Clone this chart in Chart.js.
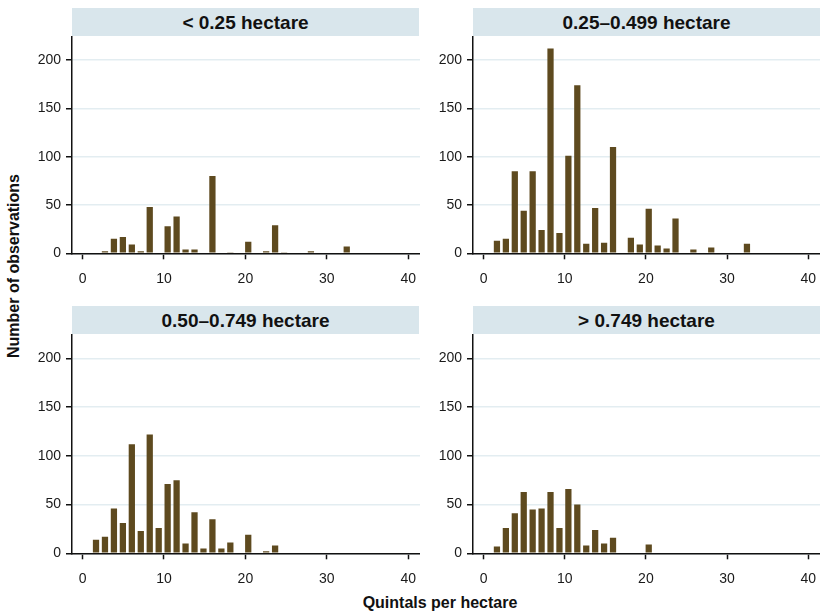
<!DOCTYPE html>
<html>
<head>
<meta charset="utf-8">
<script src="https://cdn.jsdelivr.net/npm/chart.js@4.4.1/dist/chart.umd.min.js"></script>
<style>
body { margin: 0; background: #fff; }
#wrap { position: relative; width: 820px; height: 615px; font-family: "Liberation Sans", Arial, sans-serif; color: #111; }
.head { position: absolute; height: 28px; line-height: 29px; background: #d9e6ec; text-align: center; font-weight: bold; font-size: 19px; }
canvas { position: absolute; }
.ytitle { position: absolute; left: 14px; top: 266px; transform: translate(-50%, -50%) rotate(-90deg); font-weight: bold; font-size: 16px; white-space: nowrap; }
.xtitle { position: absolute; left: 440px; top: 603px; transform: translate(-50%, -50%); font-weight: bold; font-size: 16px; white-space: nowrap; }
</style>
</head>
<body>
<div id="wrap">
  <div class="head" style="left:72px; top:8px; width:347px;">&lt; 0.25 hectare</div>
  <div class="head" style="left:473px; top:8px; width:347px;">0.25–0.499 hectare</div>
  <div class="head" style="left:72px; top:306px; width:347px;">0.50–0.749 hectare</div>
  <div class="head" style="left:473px; top:306px; width:347px;">&gt; 0.749 hectare</div>
  <canvas id="p1" width="390" height="256" style="left:30px; top:36px;"></canvas>
  <canvas id="p2" width="390" height="256" style="left:430px; top:36px;"></canvas>
  <canvas id="p3" width="390" height="256" style="left:30px; top:334px;"></canvas>
  <canvas id="p4" width="390" height="256" style="left:430px; top:334px;"></canvas>
  <div class="ytitle">Number of observations</div>
  <div class="xtitle">Quintals per hectare</div>
</div>
<script>
// bin centres (quintals per hectare), bins 1.1 wide
var binCenters = [0.55, 1.65, 2.75, 3.85, 4.95, 6.05, 7.15, 8.25, 9.35, 10.45,
                  11.55, 12.65, 13.75, 14.85, 15.95, 17.05, 18.15, 19.25, 20.35, 21.45,
                  22.55, 23.65, 24.75, 25.85, 26.95, 28.05, 29.15, 30.25, 31.35, 32.45];

// number of observations per bin, one list per farm size
var under025 = [0, 0, 2, 15, 17, 9, 2, 48, 0, 28, 38, 4, 4, 0, 80, 0, 1, 0, 12, 0, 2, 29, 1, 0, 0, 2, 0, 0, 0, 7];
var from025 = [0, 13, 15, 85, 44, 85, 24, 212, 21, 101, 174, 10, 47, 11, 110, 0, 16, 9, 46, 8, 5, 36, 0, 4, 0, 6, 0, 0, 0, 10];
var from050 = [0, 14, 17, 46, 31, 112, 23, 122, 26, 71, 75, 10, 42, 5, 35, 5, 11, 0, 19, 0, 2, 8, 0, 0, 0, 0, 0, 0, 0, 0];
var over0749 = [0, 7, 26, 41, 63, 45, 46, 63, 26, 66, 50, 8, 24, 10, 16, 0, 0, 0, 9, 0, 0, 0, 0, 0, 0, 0, 0, 0, 0, 0];

var xTicks = [0, 10, 20, 30, 40];
var yTicks = [0, 50, 100, 150, 200];

var barColor = '#5e4a1f';
var tickFont = { family: '"Liberation Sans", Arial, sans-serif', size: 14 };

function createPanel(id, values, yWidth, xHeight) {
    var ctx = document.getElementById(id);
    return new Chart(ctx, {
        type: 'bar',
        data: {
            labels: binCenters,
            datasets: [{
                data: values,
                backgroundColor: barColor,
                borderWidth: 0,
                barPercentage: 0.7,
                categoryPercentage: 1.0
            }]
        },
        options: {
            responsive: false,
            animation: false,
            layout: { padding: 0 },
            plugins: {
                legend: { display: false },
                tooltip: { enabled: false }
            },
            scales: {
                x: {
                    type: 'linear',
                    offset: false,
                    min: -1.3,
                    max: 41.45,
                    afterBuildTicks: function(scale) {
                        scale.ticks = xTicks.map(v => ({ value: v }));
                    },
                    afterFit: function(scale) {
                        scale.height = xHeight;
                        scale.paddingLeft = 0;
                        scale.paddingRight = 0;
                    },
                    grid: {
                        offset: false,
                        drawOnChartArea: false,
                        tickLength: 6,
                        tickWidth: 1.5,
                        tickColor: '#111'
                    },
                    border: { color: '#111', width: 1.5 },
                    ticks: { font: tickFont, color: '#1a1a1a', padding: 11, maxRotation: 0 }
                },
                y: {
                    min: 0,
                    max: 225,
                    afterBuildTicks: function(scale) {
                        scale.ticks = yTicks.map(v => ({ value: v }));
                    },
                    afterFit: function(scale) {
                        scale.width = yWidth;
                        scale.paddingTop = 0;
                        scale.paddingBottom = 0;
                    },
                    grid: {
                        color: '#e3edf1',
                        lineWidth: 1.5,
                        tickLength: 6,
                        tickWidth: 1.5,
                        tickColor: '#111'
                    },
                    border: { color: '#111', width: 1.5 },
                    ticks: { font: tickFont, color: '#1a1a1a', padding: 5 }
                }
            }
        }
    });
}

createPanel('p1', under025, 42, 38.7);
createPanel('p2', from025, 43, 38.7);
createPanel('p3', from050, 42, 36.7);
createPanel('p4', over0749, 43, 36.7);
</script>
</body>
</html>
